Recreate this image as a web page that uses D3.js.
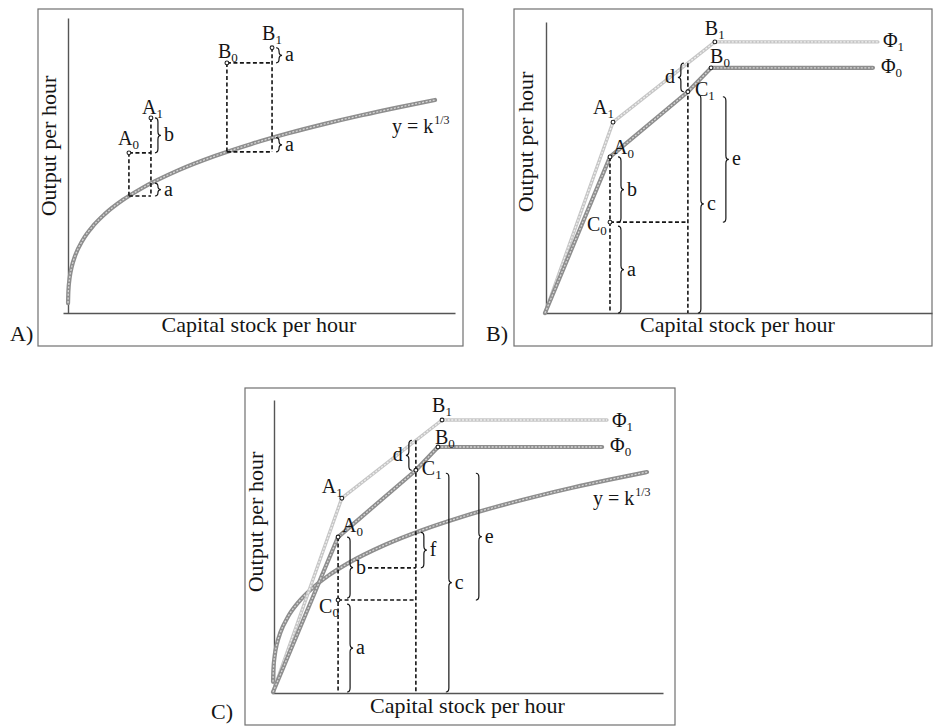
<!DOCTYPE html>
<html>
<head>
<meta charset="utf-8">
<script src="https://cdn.jsdelivr.net/npm/d3@7"></script>
<style>
  html, body { margin: 0; padding: 0; background: #fff; }
  svg { display: block; }
</style>
</head>
<body>
<svg id="fig" width="935" height="728"></svg>
<script>
// ---------------- data ----------------
// Production function y = k^(1/3), sampled along capital stock k
const curveK = [0.01, 0.1, 0.5, 1, 2, 4, 7, 10, 15, 20, 30, 40, 50, 60, 70, 80, 90, 100];
const curveY = [0.215, 0.464, 0.794, 1, 1.26, 1.587, 1.913, 2.154, 2.466, 2.714, 3.107, 3.42, 3.684, 3.915, 4.121, 4.309, 4.481, 4.642];

// Panel A: points above the curve and the curve height beneath each one
const panelANames = ["A0", "A1", "B0", "B1"];
const panelAK = [16.6, 22.6, 43.3, 55.6];
const panelAY = [3.49, 4.25, 5.45, 5.78];
const panelACurve = [2.55, 2.83, 3.51, 3.82];

// Panel B: technology frontiers Φ0 and Φ1
const panelBPhi0K = [0, 17.1, 37.6, 43.7, 86.3];
const panelBPhi0Y = [0, 52.9, 75, 83.1, 83.1];
const panelBPhi1K = [0, 17.9, 44.7, 87.6];
const panelBPhi1Y = [0, 64.7, 91.9, 91.9];
const panelBNames = ["A0", "A1", "B0", "B1", "C0", "C1"];
const panelBK = [17.1, 17.9, 43.7, 44.7, 17.1, 37.6];
const panelBY = [52.9, 64.7, 83.1, 91.9, 30.8, 75];
const panelBPhi1AtC1 = 84.7;

// Panel C: both frontiers together with y = k^(1/3)
const panelCPhi0K = [0, 17.4, 38.2, 44.1, 88];
const panelCPhi0Y = [0, 3.27, 4.68, 5.17, 5.17];
const panelCPhi1K = [0, 18.4, 45.2, 89.3];
const panelCPhi1Y = [0, 4.09, 5.74, 5.74];
const panelCNames = ["A0", "A1", "B0", "B1", "C0", "C1"];
const panelCK = [17.4, 18.4, 44.1, 45.2, 17.4, 38.2];
const panelCY = [3.27, 4.09, 5.17, 5.74, 1.94, 4.68];
const panelCPhi1AtC1 = 5.31;
const panelCCurveAtA0 = 2.62;
const panelCCurveAtC1 = 3.37;
const panelCGapStartK = 25.4;

const axisTitleX = "Capital stock per hour";
const axisTitleY = "Output per hour";

// ---------------- helpers ----------------
const SERIF = "'Liberation Serif', 'DejaVu Serif', 'Times New Roman', serif";
const svg = d3.select("#fig").attr("font-family", SERIF);
const FONT = 20, SUB = 13, TITLE = 22;
const INK = "#151515";

function zip(a, b) { return a.map((v, i) => [v, b[i]]); }

function txt(g) {
  return g.append("text").attr("font-family", SERIF).attr("fill", INK);
}

function label(g, x, y, main, sub, anchor) {
  const t = txt(g)
    .attr("x", x).attr("y", y)
    .attr("font-size", FONT)
    .attr("text-anchor", anchor || "start");
  t.append("tspan").text(main);
  if (sub != null) t.append("tspan").attr("font-size", SUB).attr("dy", 4).text(sub);
  return t;
}

function sup(g, x, y, main, s) {
  const t = txt(g).attr("x", x).attr("y", y).attr("font-size", FONT);
  t.append("tspan").text(main);
  t.append("tspan").attr("font-size", 12).attr("dy", -9).attr("dx", 1).text(s);
}

// curly brace on a vertical span; w > 0 puts the tip on the right, w < 0 on the left
function bracePath(x, y1, y2, w) {
  const top = Math.min(y1, y2), bot = Math.max(y1, y2), mid = (top + bot) / 2;
  const r = Math.min(4, (bot - top) / 4);
  const xm = x + w / 2, xt = x + w;
  return `M${x},${top} Q${xm},${top} ${xm},${top + r} L${xm},${mid - r} ` +
         `Q${xm},${mid} ${xt},${mid} Q${xm},${mid} ${xm},${mid + r} ` +
         `L${xm},${bot - r} Q${xm},${bot} ${x},${bot}`;
}

function brace(g, x, y1, y2, w, s) {
  g.append("path").attr("d", bracePath(x, y1, y2, w))
    .attr("fill", "none").attr("stroke", INK).attr("stroke-width", 1.2);
  const mid = (y1 + y2) / 2;
  txt(g)
    .attr("x", w > 0 ? x + w + 3 : x + w - 3)
    .attr("y", mid + 6)
    .attr("font-size", FONT)
    .attr("text-anchor", w > 0 ? "start" : "end")
    .text(s);
}

function greyLine(g, pts, xs, ys, kind, curved) {
  const line = d3.line().x(d => xs(d[0])).y(d => ys(d[1]));
  if (curved) line.curve(d3.curveMonotoneX);
  const dark = kind === "dark";
  g.append("path").attr("d", line(pts)).attr("fill", "none")
    .attr("stroke", dark ? "#8e8e8e" : "#c6c6c6")
    .attr("stroke-width", dark ? 4.2 : 3.4)
    .attr("stroke-linejoin", "round").attr("stroke-linecap", "round");
  g.append("path").attr("d", line(pts)).attr("fill", "none")
    .attr("stroke", dark ? "#d6d6d6" : "#efefef")
    .attr("stroke-width", 1.3)
    .attr("stroke-dasharray", "2,1.6");
}

function dashed(g, xs, ys, k1, y1, k2, y2) {
  g.append("line")
    .attr("x1", xs(k1)).attr("y1", ys(y1))
    .attr("x2", xs(k2)).attr("y2", ys(y2))
    .attr("stroke", INK).attr("stroke-width", 1.6)
    .attr("stroke-dasharray", "4,2.5");
}

function dot(g, x, y) {
  g.append("circle").attr("cx", x).attr("cy", y).attr("r", 1.9)
    .attr("fill", "#fff").attr("stroke", "#222").attr("stroke-width", 1.1);
}

// frame: outer box, two bare axes, titles and the panel letter
function frame(g, box, xs, ys, ax, letter, letterPos, titleY) {
  g.append("rect")
    .attr("x", box[0]).attr("y", box[1])
    .attr("width", box[2] - box[0]).attr("height", box[3] - box[1])
    .attr("fill", "none").attr("stroke", "#707070").attr("stroke-width", 1.2);

  const xAxisScale = d3.scaleLinear()
    .domain([xs.invert(ax.x0), xs.invert(ax.x1)]).range([ax.x0, ax.x1]);
  const yAxisScale = d3.scaleLinear()
    .domain([ys.invert(ax.y1), ys.invert(ax.y0)]).range([ax.y1, ax.y0]);

  const gx = g.append("g").attr("transform", `translate(0,${ax.yAxisBase})`)
    .call(d3.axisBottom(xAxisScale).tickValues([]).tickSizeOuter(0));
  const gy = g.append("g").attr("transform", `translate(${ax.xAxisBase},0)`)
    .call(d3.axisLeft(yAxisScale).tickValues([]).tickSizeOuter(0));
  [gx, gy].forEach(a => a.select(".domain")
    .attr("stroke", "#555").attr("stroke-width", 1.4));

  txt(g)
    .attr("x", (ax.x0 + ax.x1) / 2).attr("y", ax.captionY)
    .attr("text-anchor", "middle").attr("font-size", TITLE)
    .text(axisTitleX);
  txt(g)
    .attr("transform", `translate(${titleY[0]},${titleY[1]}) rotate(-90)`)
    .attr("text-anchor", "middle").attr("font-size", TITLE)
    .text(axisTitleY);
  txt(g)
    .attr("x", letterPos[0]).attr("y", letterPos[1])
    .attr("font-size", TITLE).text(letter);
}

// ---------------- Panel A ----------------
{
  const g = svg.append("g");
  const xs = d3.scaleLinear().domain([0, 100]).range([68, 435]);
  const ys = d3.scaleLinear().domain([0, 6.4]).range([313, 19.3]);
  frame(g, [38, 9, 463, 346], xs, ys,
    { x0: 63, x1: 455, y0: 18, y1: 313, yAxisBase: 313, xAxisBase: 68, captionY: 332 },
    "A)", [10, 341], [56, 146]);

  greyLine(g, zip(curveK, curveY), xs, ys, "dark", true);

  [[0, 1], [2, 3]].forEach(([i, j], n) => {
    const lo = panelACurve[i];
    dashed(g, xs, ys, panelAK[i], panelAY[i], panelAK[j], panelAY[i]);
    dashed(g, xs, ys, panelAK[i], panelAY[i], panelAK[i], lo);
    dashed(g, xs, ys, panelAK[j], panelAY[j], panelAK[j], lo);
    dashed(g, xs, ys, panelAK[i], lo, panelAK[j], lo);
    const bx = xs(panelAK[j]) + 4;
    brace(g, bx, ys(panelAY[j]), ys(panelAY[i]), 6, n === 0 ? "b" : "a");
    brace(g, bx, ys(panelACurve[j]), ys(lo), 6, "a");
  });

  const offs = { A0: [-11, -8], A1: [-9, -4], B0: [-9, -5], B1: [-10, -8] };
  panelANames.forEach((nm, i) => {
    const px = xs(panelAK[i]), py = ys(panelAY[i]);
    dot(g, px, py);
    label(g, px + offs[nm][0], py + offs[nm][1], nm[0], nm[1]);
  });

  sup(g, 392, 133, "y = k", "1/3");
}

// ---------------- Panel B ----------------
{
  const g = svg.append("g");
  const xs = d3.scaleLinear().domain([0, 100]).range([545, 925]);
  const ys = d3.scaleLinear().domain([0, 100]).range([313, 18]);
  frame(g, [514, 9, 932, 346], xs, ys,
    { x0: 543, x1: 932, y0: 22, y1: 313, yAxisBase: 313, xAxisBase: 546, captionY: 332 },
    "B)", [486, 341], [533, 142]);

  greyLine(g, zip(panelBPhi1K, panelBPhi1Y), xs, ys, "light", false);
  greyLine(g, zip(panelBPhi0K, panelBPhi0Y), xs, ys, "dark", false);

  const kA = panelBK[0], kC1 = panelBK[5];
  const yA0 = panelBY[0], yC0 = panelBY[4], yC1 = panelBY[5];
  dashed(g, xs, ys, kA, yA0, kA, 0);
  dashed(g, xs, ys, kA, yC0, kC1, yC0);
  dashed(g, xs, ys, kC1, panelBPhi1AtC1, kC1, 0);

  brace(g, xs(kC1) - 4, ys(panelBPhi1AtC1), ys(yC1), -6, "d");
  brace(g, xs(kC1) + 10, ys(yC1) + 3, ys(0), 6, "c");
  brace(g, xs(kC1) + 35, ys(yC1) + 5, ys(yC0), 6, "e");
  brace(g, xs(kA) + 8, ys(yA0), ys(yC0), 6, "b");
  brace(g, xs(kA) + 8, ys(yC0) + 4, ys(0), 6, "a");

  const offs = { A0: [3, -3], A1: [-20, -8], B0: [-1, -5], B1: [-10, -7], C0: [-23, 9], C1: [7, 4] };
  panelBNames.forEach((nm, i) => {
    const px = xs(panelBK[i]), py = ys(panelBY[i]);
    dot(g, px, py);
    label(g, px + offs[nm][0], py + offs[nm][1], nm[0], nm[1]);
  });

  const e1 = panelBPhi1K.length - 1, e0 = panelBPhi0K.length - 1;
  label(g, xs(panelBPhi1K[e1]) + 5, ys(panelBPhi1Y[e1]) + 5, "Φ", "1");
  label(g, xs(panelBPhi0K[e0]) + 8, ys(panelBPhi0Y[e0]) + 5, "Φ", "0");
}

// ---------------- Panel C ----------------
{
  const g = svg.append("g");
  const xs = d3.scaleLinear().domain([0, 100]).range([273, 647]);
  const ys = d3.scaleLinear().domain([0, 6.2]).range([692, 398.2]);
  frame(g, [245, 388, 675, 725], xs, ys,
    { x0: 272, x1: 663, y0: 400, y1: 693, yAxisBase: 693, xAxisBase: 274, captionY: 713 },
    "C)", [211, 719], [263, 522]);

  greyLine(g, zip(curveK, curveY), xs, ys, "dark", true);
  greyLine(g, zip(panelCPhi1K, panelCPhi1Y), xs, ys, "light", false);
  greyLine(g, zip(panelCPhi0K, panelCPhi0Y), xs, ys, "dark", false);

  const kA = panelCK[0], kC1 = panelCK[5];
  const yA0 = panelCY[0], yC0 = panelCY[4], yC1 = panelCY[5];
  dashed(g, xs, ys, kA, yA0, kA, 0);
  dashed(g, xs, ys, kA, yC0, kC1, yC0);
  dashed(g, xs, ys, kC1, panelCPhi1AtC1, kC1, 0);
  dashed(g, xs, ys, panelCGapStartK, panelCCurveAtA0, kC1, panelCCurveAtA0);

  brace(g, xs(kC1) - 4, ys(panelCPhi1AtC1), ys(yC1), -6, "d");
  brace(g, xs(kC1) + 5, ys(panelCCurveAtC1), ys(panelCCurveAtA0), 6, "f");
  brace(g, xs(kC1) + 30, ys(yC1) + 3, ys(0), 6, "c");
  brace(g, xs(kC1) + 60, ys(yC1) + 3, ys(yC0), 6, "e");
  brace(g, xs(kA) + 9, ys(yA0), ys(yC0) - 2, 6, "b");
  brace(g, xs(kA) + 9, ys(yC0) + 4, ys(0), 6, "a");

  const offs = { A0: [4, -5], A1: [-20, -5], B0: [-3, -3], B1: [-10, -8], C0: [-19, 13], C1: [6, 5] };
  panelCNames.forEach((nm, i) => {
    const px = xs(panelCK[i]), py = ys(panelCY[i]);
    dot(g, px, py);
    label(g, px + offs[nm][0], py + offs[nm][1], nm[0], nm[1]);
  });

  const e1 = panelCPhi1K.length - 1, e0 = panelCPhi0K.length - 1;
  label(g, xs(panelCPhi1K[e1]) + 5, ys(panelCPhi1Y[e1]) + 7, "Φ", "1");
  label(g, xs(panelCPhi0K[e0]) + 8, ys(panelCPhi0Y[e0]) + 5, "Φ", "0");

  sup(g, 593, 505, "y = k", "1/3");
}
</script>
</body>
</html>
